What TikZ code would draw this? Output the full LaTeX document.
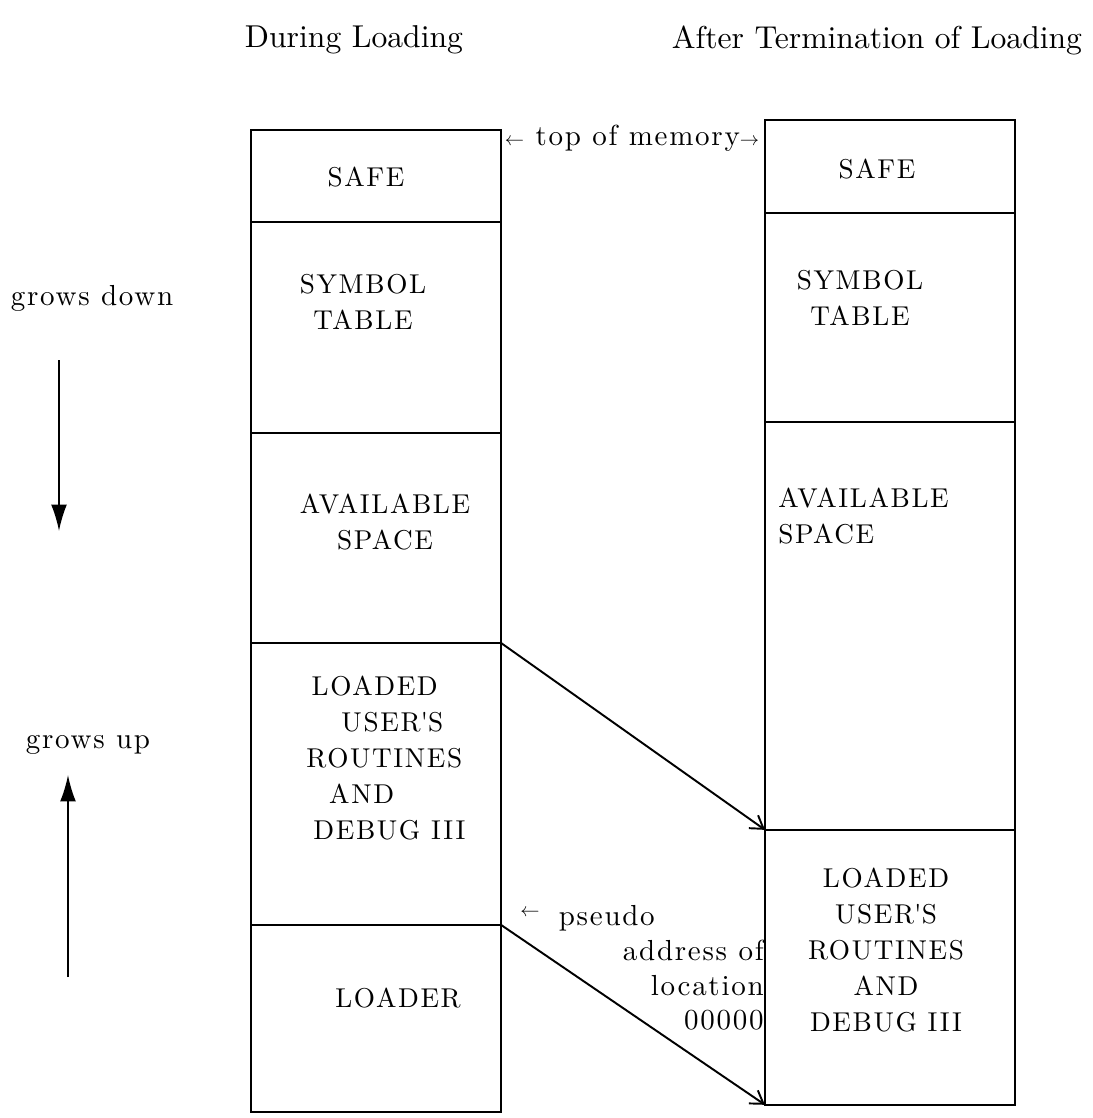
\documentclass[tikz,border=0pt]{standalone}
\usepackage{fontspec}
\setmainfont{lmroman10-regular.otf}[LetterSpace=6]
\newfontfamily\headfont{lmroman10-regular.otf}
\usepackage{tikz}
\usetikzlibrary{arrows.meta,positioning}

\newcommand{\smallarr}[1]{{\fontsize{11}{12}\selectfont$#1$}}

\begin{document}
\begin{tikzpicture}[x=0.02cm,y=-0.02cm,
  cell/.style={draw,line width=1.3pt,minimum width=5cm,inner sep=0pt,outer sep=0pt,anchor=north west},
  lbl/.style={font=\fontsize{15.5}{20.4}\selectfont,align=center,inner sep=0pt},
  note/.style={font=\fontsize{16.5}{19.8}\selectfont,align=center,inner sep=0pt},
  head/.style={font=\headfont\fontsize{18}{22}\selectfont,inner sep=0pt},
  move/.style={line width=1.1pt,-{Straight Barb[length=7pt,width=9pt]}},
  growarrow/.style={line width=1pt,-{Latex[length=15pt,width=9pt]}}
]
  \useasboundingbox (0,0) rectangle (1092,1118);

  % during loading
  \node[cell,minimum height=1.84cm] (lsafe) at (251,130) {};
  \node[cell,minimum height=4.22cm] (lsym) at (lsafe.south west) {};
  \node[cell,minimum height=4.2cm] (lavail) at (lsym.south west) {};
  \node[cell,minimum height=5.64cm] (lload) at (lavail.south west) {};
  \node[cell,minimum height=3.74cm] (lloader) at (lload.south west) {};

  % after termination
  \node[cell,minimum height=1.86cm] (rsafe) at (765,120) {};
  \node[cell,minimum height=4.18cm] (rsym) at (rsafe.south west) {};
  \node[cell,minimum height=8.16cm] (ravail) at (rsym.south west) {};
  \node[cell,minimum height=5.5cm] (rload) at (ravail.south west) {};

  \node[head] (hdur) at (354,40) {During Loading};
  \node[head] (haft) at (877,40) {After Termination of Loading};

  \node[lbl] (tlsafe) at (366,177) {SAFE};
  \node[lbl] (tlsym) at (363,302) {SYMBOL\\TABLE};
  \node[lbl] (tlavail) at (385,522) {AVAILABLE\\SPACE};
  \node[lbl,align=left,anchor=west] (tlload) at (306,758)
    {\hspace*{3pt}LOADED\\\hspace*{20pt}USER\textquotesingle S\\ROUTINES\\\hspace*{13pt}AND\\\hspace*{4pt}DEBUG III};
  \node[lbl] (tlloader) at (398,998) {LOADER};

  \node[lbl] (trsafe) at (877,169) {SAFE};
  \node[lbl] (trsym) at (860,298) {SYMBOL\\TABLE};
  \node[lbl,align=left,anchor=west] (travail) at (778,516) {AVAILABLE\\SPACE};
  \node[lbl] (trload) at (886,950) {LOADED\\USER\textquotesingle S\\ROUTINES\\AND\\DEBUG III};

  \node[note] (tmem) at (632,138) {\smallarr{\leftarrow}\ top of memory\smallarr{\rightarrow}};
  \node[note,align=right,anchor=east] (tpseudo) at (764,968)
    {\raisebox{5pt}{\smallarr{\leftarrow}}\hspace{11pt}pseudo\hspace*{62pt}\\address of\\location\\00000};

  \draw[move] (lavail.south east) -- (ravail.south west);
  \draw[move] (lload.south east) -- (rload.south west);

  % growth direction
  \node[note] (tdown) at (92,298) {grows down};
  \node[note] (tup) at (88,745) {grows up};
  \coordinate (dtop) at (59,360);
  \coordinate (dtip) at (59,531);
  \coordinate (ubot) at (68,977);
  \coordinate (utip) at (68,775);
  \draw[growarrow] (dtop) -- (dtip);
  \draw[growarrow] (ubot) -- (utip);
\end{tikzpicture}
\end{document}
